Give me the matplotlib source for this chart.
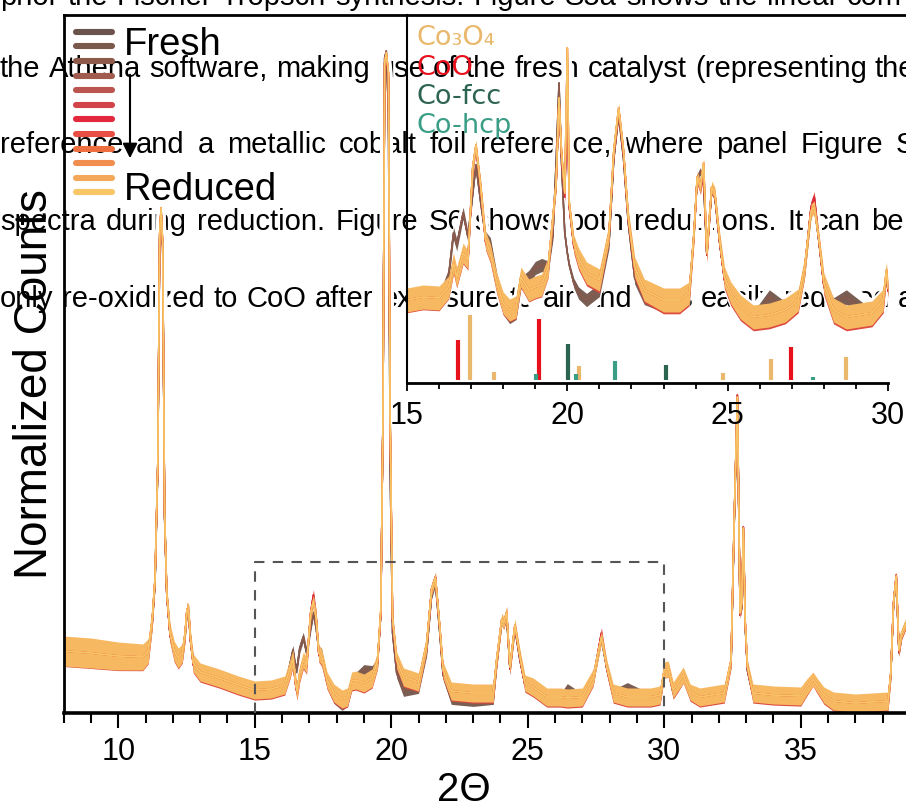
import numpy as np
import matplotlib
matplotlib.use("Agg")
import matplotlib.pyplot as plt
from matplotlib.lines import Line2D
from matplotlib.ticker import MultipleLocator

plt.rcParams['font.family'] = ['Liberation Sans', 'DejaVu Sans']

W, H = 906, 807

# ---- main XRD pattern (2 theta, normalized counts) ----
main_x = [8.0, 9.0, 10.0, 10.9, 11.1, 11.25, 11.35, 11.45, 11.52, 11.57, 11.63, 11.7, 11.78, 11.9,
          12.05, 12.2, 12.35, 12.45, 12.52, 12.58, 12.65, 12.75, 13.0, 13.7, 14.4, 15.0, 15.6, 16.1,
          16.3, 16.4, 16.5, 16.55, 16.65, 16.78, 16.9, 17.05, 17.15, 17.25, 17.35, 17.45, 17.55, 17.65,
          17.9, 18.2, 18.4, 18.55, 18.7, 19.0, 19.3, 19.5, 19.62, 19.7, 19.76, 19.82, 19.9, 19.96,
          20.05, 20.2, 20.45, 21.0, 21.3, 21.48, 21.62, 21.78, 21.9, 22.2, 23.0, 23.74, 23.86, 24.05,
          24.12, 24.23, 24.35, 24.53, 24.72, 24.9, 25.2, 25.7, 26.2, 26.45, 27.0, 27.4, 27.7, 27.9,
          28.13, 28.65, 29.5, 29.85, 30.0, 30.15, 30.33, 30.5, 30.7, 30.95, 31.3, 32.2, 32.45, 32.57,
          32.68, 32.78, 32.84, 32.9, 32.97, 33.05, 33.25, 34.0, 35.0, 35.22, 35.45, 35.6, 35.85, 36.2,
          37.0, 38.2, 38.3, 38.4, 38.5, 38.6, 38.7, 38.85]
main_fresh = [60, 57, 54, 53, 60, 92, 130, 245, 475, 500, 465, 195, 118, 78,
              60, 53, 58, 78, 100, 98, 72, 52, 40, 34, 26, 20, 21, 26,
              50, 63, 45, 45, 65, 76, 60, 85, 100, 85, 62, 60, 45, 30,
              15, 8, 12, 28, 35, 43, 42, 50, 100, 300, 655, 662, 600, 250,
              80, 40, 22, 25, 62, 118, 130, 80, 38, 14, 12, 14, 48, 92,
              88, 96, 44, 85, 52, 28, 24, 14, 14, 24, 14, 34, 74, 44,
              18, 25, 14, 16, 40, 42, 20, 28, 36, 19, 14, 18, 50, 195,
              312, 98, 105, 180, 86, 42, 18, 16, 15, 24, 32, 26, 16, 10,
              8, 10, 38, 108, 135, 60, 78, 88]
main_mid = [60, 58, 55, 54, 60, 93, 133, 248, 478, 503, 468, 198, 118, 78,
            60, 53, 58, 78, 104, 102, 72, 48, 39, 33, 26, 21, 22, 26,
            43, 53, 28, 20, 38, 51, 46, 100, 118, 96, 58, 54, 43, 31,
            18, 12, 14, 30, 31, 28, 33, 51, 100, 300, 650, 658, 635, 295,
            92, 51, 34, 29, 68, 124, 136, 84, 41, 20, 18, 18, 51, 93,
            89, 100, 44, 87, 54, 28, 24, 14, 14, 13, 14, 34, 80, 44,
            18, 14, 14, 16, 42, 43, 21, 28, 37, 19, 14, 18, 51, 198,
            318, 98, 108, 186, 88, 44, 18, 16, 15, 24, 33, 26, 16, 10,
            8, 10, 39, 110, 138, 61, 78, 88]
main_reduced = [62, 60, 57, 56, 62, 95, 135, 250, 480, 505, 470, 200, 120, 80,
                62, 55, 60, 80, 104, 102, 74, 50, 41, 35, 28, 23, 24, 28,
                45, 55, 30, 22, 40, 53, 48, 100, 112, 95, 60, 56, 45, 33,
                20, 14, 16, 32, 33, 30, 35, 53, 103, 300, 650, 660, 640, 300,
                95, 53, 36, 31, 70, 124, 135, 86, 43, 22, 20, 20, 53, 94,
                90, 101, 46, 88, 56, 30, 26, 16, 16, 15, 16, 36, 76, 46,
                20, 16, 16, 18, 43, 44, 23, 30, 38, 21, 16, 20, 53, 200,
                316, 100, 110, 185, 90, 46, 20, 18, 17, 26, 34, 28, 18, 12,
                10, 12, 40, 110, 137, 63, 80, 90]
# width of the noisy band around the main pattern
main_noise = [15, 15, 14, 13, 12, 9, 7, 5, 4, 4, 4, 5, 7, 9,
              10, 10, 9, 8, 7, 7, 8, 9, 9, 9, 9, 9, 9, 9,
              9, 8, 8, 8, 8, 8, 8, 7, 6, 7, 8, 8, 8, 8,
              9, 9, 9, 9, 9, 9, 9, 8, 6, 4, 3, 3, 3, 4,
              6, 8, 9, 9, 8, 6, 5, 6, 8, 9, 9, 9, 8, 6,
              6, 6, 7, 6, 7, 8, 9, 9, 9, 9, 9, 8, 6, 7,
              9, 9, 9, 9, 8, 8, 8, 8, 8, 8, 9, 9, 7, 4,
              3, 4, 4, 3, 5, 7, 9, 9, 9, 8, 7, 7, 8, 9,
              9, 9, 7, 4, 4, 5, 5, 5]

# ---- zoomed region 15-30 deg ----
inset_x = [15.0, 15.5, 16.0, 16.3, 16.45, 16.55, 16.75, 16.9, 17.05, 17.15, 17.3, 17.45, 17.6,
           17.8, 18.0, 18.2, 18.4, 18.55, 18.8, 19.0, 19.2, 19.4, 19.55, 19.65, 19.74, 19.82,
           19.92, 20.0, 20.06, 20.2, 20.35, 20.6, 21.0, 21.3, 21.45, 21.6, 21.75, 21.9, 22.1,
           22.4, 23.0, 23.5, 23.8, 23.95, 24.05, 24.15, 24.25, 24.35, 24.5, 24.6, 24.75, 24.9,
           25.1, 25.4, 25.8, 26.3, 26.8, 27.2, 27.4, 27.6, 27.7, 27.85, 28.0, 28.3, 28.7, 29.5,
           29.85, 29.95, 30.0]
inset_fresh = [80, 83, 82, 108, 150, 138, 170, 146, 190, 218, 180, 146, 140,
               104, 75, 66, 70, 100, 106, 115, 118, 116, 148, 220, 300, 220,
               150, 130, 118, 100, 90, 83, 93, 140, 225, 268, 225, 160, 105,
               85, 78, 78, 88, 150, 205, 212, 200, 128, 192, 186, 140, 104,
               88, 74, 64, 86, 74, 80, 113, 170, 178, 140, 98, 78, 86, 66,
               80, 110, 92]
inset_mid = [81, 84, 83, 94, 118, 104, 128, 121, 214, 236, 194, 141, 128,
             98, 78, 71, 74, 104, 91, 94, 96, 114, 164, 198, 282, 226,
             186, 290, 176, 137, 122, 107, 100, 148, 230, 272, 230, 164, 113,
             90, 80, 80, 87, 148, 204, 194, 210, 128, 194, 188, 141, 103,
             87, 73, 63, 65, 70, 80, 114, 176, 186, 141, 97, 70, 63, 67,
             80, 110, 92]
inset_reduced = [83, 86, 85, 96, 120, 106, 130, 123, 216, 238, 196, 143, 130,
                 100, 80, 73, 76, 106, 93, 96, 98, 116, 166, 200, 285, 230,
                 190, 335, 180, 140, 125, 110, 103, 150, 233, 275, 233, 166, 116,
                 93, 83, 83, 90, 150, 206, 196, 220, 130, 196, 190, 143, 106,
                 90, 76, 66, 68, 73, 83, 116, 172, 176, 143, 100, 73, 66, 70,
                 83, 113, 95]
inset_noise = [12, 12, 12, 11, 10, 10, 10, 9, 7, 5, 7, 9, 9,
               10, 11, 11, 11, 10, 11, 11, 11, 10, 8, 6, 4, 5,
               6, 3, 5, 8, 10, 11, 11, 9, 6, 5, 6, 8, 10,
               11, 12, 12, 11, 8, 6, 6, 5, 8, 6, 6, 8, 10,
               11, 12, 12, 12, 12, 11, 10, 7, 6, 7, 10, 12, 12, 12,
               11, 8, 8]

# ---- reference stick patterns ----
co3o4_pos = [16.96, 17.71, 20.36, 24.86, 26.35, 28.69]
co3o4_int = [68, 11, 17, 10, 24, 26]
coo_pos = [16.58, 19.12, 26.99]
coo_int = [43, 64, 36]
cofcc_pos = [20.03, 23.08]
cofcc_int = [39, 18]
cohcp_pos = [19.02, 20.26, 21.5, 27.65]
cohcp_int = [9, 9, 22, 6]

series_colors = ['#6b544b', '#7b594d', '#8e5a4c', '#a25b4f', '#bb5550', '#d0444a',
                 '#e2283c', '#e84e44', '#ee6e40', '#f08d4f', '#f4a85a', '#f8c667']

fig = plt.figure(figsize=(W / 100, H / 100), dpi=100)
fig.patch.set_facecolor('white')


def fx(x):
    return x / W


def fy(y):
    return 1 - y / H


# ---- page text behind the figure: (line, baseline px, start px of last word) ----
page_lines = [
    ("phor the Fischer-Tropsch synthesis. Figure S5a shows the linear com", 5, None),
    ("the Athena software, making use of the fresh catalyst (representing the", 77, 875),
    ("reference and a metallic cobalt foil reference, where panel Figure S", 153, 896),
    ("spectra during reduction. Figure S6 shows both reductions. It can be", 230, 871),
    ("only re-oxidized to CoO after exposure to air and was easily reduced a", 307, 898),
]
renderer = fig.canvas.get_renderer()
for line, base, last_x in page_lines:
    words = line.split()
    texts = [fig.text(0, fy(base), w, fontsize=21, va='baseline', ha='left',
                      color='black', zorder=-1) for w in words]
    widths = [t.get_window_extent(renderer).width for t in texts]
    gap = 9 if last_x is None else (last_x - sum(widths[:-1])) / (len(words) - 1)
    xpos = 0
    for t, wd in zip(texts, widths):
        t.set_x(fx(xpos))
        xpos += wd + gap


def draw_pattern(ax, x, profiles, noise, halo):
    x = np.asarray(x)
    amp = np.asarray(noise, float)
    arrs = [np.asarray(p, float) for p in profiles]
    lo = np.min(arrs, axis=0)
    hi = np.max(arrs, axis=0)
    ax.fill_between(x, lo - amp - halo, hi + amp + halo, color='white', lw=0, zorder=1)
    for a in arrs:
        ax.plot(x, a, color='white', lw=6, zorder=1, solid_joinstyle='round')
    groups = [(arrs[0], series_colors[0:3], '#7a5e54', 0.6),
              (arrs[1], series_colors[3:7], '#dc4a40', 0.9),
              (arrs[2], series_colors[7:12], '#f6b860', 1.0)]
    for k, (a, cols, band, scale) in enumerate(groups):
        ax.fill_between(x, a - amp * scale, a + amp * scale, color=band, lw=0,
                        zorder=2 + k * 0.1)
        for c in cols:
            ax.plot(x, a, color=c, lw=1.1, zorder=2.05 + k * 0.1)


# ---- main axes ----
ax = fig.add_axes([fx(63.6), fy(713), 1 - fx(63.6), (713 - 15) / H])
ax.set_facecolor('none')
ax.set_xlim(8.0, 8.0 + (W - 63.6) / 27.3)
ax.set_ylim(0, 698)
draw_pattern(ax, main_x, [main_fresh, main_mid, main_reduced], main_noise, halo=3)
ax.plot([15, 15, 30, 30], [0, 151, 151, 0], color='#555555', lw=1.5,
        ls=(0, (5, 4)), zorder=4)
ax.spines['right'].set_visible(False)
ax.spines['left'].set_linewidth(2)
ax.spines['top'].set_linewidth(2)
ax.spines['bottom'].set_linewidth(2.6)
ax.set_yticks([])
ax.xaxis.set_major_locator(MultipleLocator(5))
ax.xaxis.set_minor_locator(MultipleLocator(1))
ax.tick_params(axis='x', which='major', direction='out', length=10.5, width=1.5,
               labelsize=22, pad=7)
ax.tick_params(axis='x', which='minor', direction='out', length=7, width=1.5)

fig.text(fx(464), fy(801), '2Θ', fontsize=29, ha='center', va='baseline')
fig.text(fx(47), fy(384), 'Normalized Counts', fontsize=33, rotation=90,
         ha='center', va='baseline', rotation_mode='anchor')

# ---- inset ----
ax_in = fig.add_axes([fx(407), fy(383), (888 - 407) / W, (383 - 15) / H])
ax_in.set_facecolor('none')
ax_in.set_xlim(15, 30)
ax_in.set_ylim(0, 368)
draw_pattern(ax_in, inset_x, [inset_fresh, inset_mid, inset_reduced], inset_noise, halo=3)
ax_in.vlines(co3o4_pos, 3, co3o4_int, color='#eab86c', lw=3, zorder=3)
ax_in.vlines(coo_pos, 3, coo_int, color='#e8101c', lw=3, zorder=3)
ax_in.vlines(cofcc_pos, 3, cofcc_int, color='#2c6450', lw=3, zorder=3)
ax_in.vlines(cohcp_pos, 3, cohcp_int, color='#3a9e86', lw=3, zorder=3)
ax_in.spines['right'].set_visible(False)
ax_in.spines['top'].set_visible(False)
ax_in.spines['left'].set_linewidth(1.5)
ax_in.spines['bottom'].set_linewidth(2)
ax_in.set_yticks([])
ax_in.xaxis.set_major_locator(MultipleLocator(5))
ax_in.xaxis.set_minor_locator(MultipleLocator(1))
ax_in.tick_params(axis='x', which='major', direction='out', length=6, width=1.3,
                  labelsize=22, pad=7)
ax_in.tick_params(axis='x', which='minor', direction='out', length=4, width=1.3)

ref_labels = [('Co₃O₄', '#eab86c', 45), ('CoO', '#e8101c', 75),
              ('Co-fcc', '#2c6450', 104), ('Co-hcp', '#3a9e86', 133)]
for lab, col, base in ref_labels:
    fig.text(fx(417), fy(base), lab, fontsize=19.5, color=col, family='DejaVu Sans',
             va='baseline', ha='left', zorder=5)

# ---- series legend ----
for i, col in enumerate(series_colors):
    yy = fy(31.7 + 14.6 * i)
    fig.add_artist(Line2D([fx(76), fx(112)], [yy, yy], color=col, lw=4.4,
                          solid_capstyle='round', transform=fig.transFigure, zorder=5))
fig.text(fx(124), fy(55), 'Fresh', fontsize=27.5, va='baseline', ha='left', zorder=5)
fig.text(fx(124), fy(200), 'Reduced', fontsize=27.5, va='baseline', ha='left', zorder=5)
ax.annotate('', xy=(130, H - 161), xytext=(130, H - 72), xycoords='figure pixels',
            textcoords='figure pixels',
            arrowprops=dict(arrowstyle='-|>', color='black', lw=1.5, mutation_scale=22))

fig.savefig('out.png', dpi=100)
